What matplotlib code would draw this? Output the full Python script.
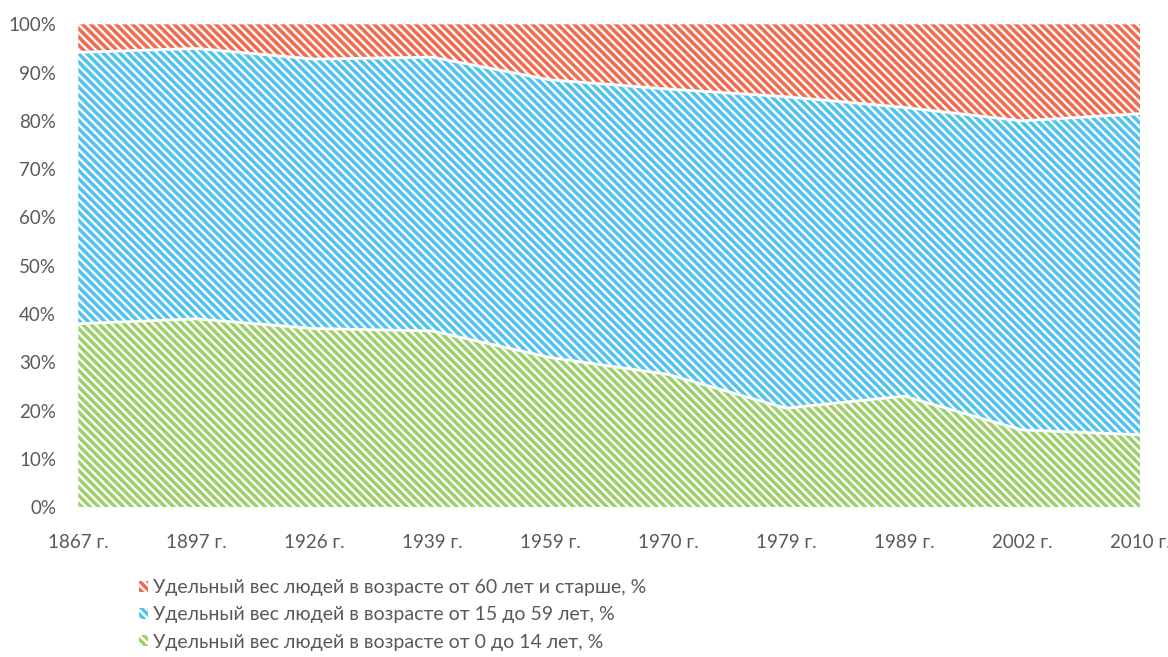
import numpy as np
import matplotlib.pyplot as plt
from matplotlib.patches import Patch
from matplotlib.ticker import FuncFormatter

plt.rcParams['font.family'] = ['Lato', 'DejaVu Sans']
plt.rcParams['hatch.linewidth'] = 2.5

# data
years = ['1867 г.', '1897 г.', '1926 г.', '1939 г.', '1959 г.',
         '1970 г.', '1979 г.', '1989 г.', '2002 г.', '2010 г.']
age_0_14 = [38.0, 39.0, 37.0, 36.5, 31.0, 27.5, 20.5, 23.0, 16.0, 15.0]
age_15_59 = [56.2, 56.0, 55.8, 56.7, 57.5, 59.1, 64.5, 59.8, 64.0, 66.5]
age_60 = [5.8, 5.0, 7.2, 6.8, 11.5, 13.4, 15.0, 17.2, 20.0, 18.5]

labels = ['Удельный вес людей в возрасте от 0 до 14 лет, %',
          'Удельный вес людей в возрасте от 15 до 59 лет, %',
          'Удельный вес людей в возрасте от 60 лет и старше, %']
colors = ['#9dd06a', '#4fc3ee', '#f2694e']
hatch = '\\\\\\\\'

fig = plt.figure(figsize=(11.68, 6.57), dpi=100)
ax = fig.add_axes([0.067, 0.228, 0.909, 0.735])

x = np.arange(len(years))
series = [np.array(age_0_14), np.array(age_15_59), np.array(age_60)]
bottom = np.zeros(len(years))
for s, c in zip(series, colors):
    top = bottom + s
    ax.fill_between(x, bottom, top, facecolor='white', edgecolor=c,
                    hatch=hatch, linewidth=0)
    bottom = top

# white separators between the layers
cum = np.cumsum(series, axis=0)
for row in cum[:2]:
    ax.plot(x, row, color='white', lw=2)

ax.set_xlim(0, len(years) - 1)
ax.set_ylim(0, 100)
ax.set_xticks(x)
ax.set_xticklabels(years)
ax.set_yticks(np.arange(0, 101, 10))
ax.yaxis.set_major_formatter(FuncFormatter(lambda v, p: f'{v:.0f}%'))
ax.tick_params(length=0, labelsize=13.5, labelcolor='#595959')
ax.tick_params(axis='y', pad=16)
ax.tick_params(axis='x', pad=19)
for sp in ax.spines.values():
    sp.set_visible(False)

handles = [Patch(facecolor='white', edgecolor=c, hatch=hatch, linewidth=0)
           for c in colors]
leg = fig.legend(handles[::-1], labels[::-1], loc='upper left',
                 bbox_to_anchor=(0.112, 0.13), frameon=False, fontsize=14,
                 handlelength=0.5, handleheight=0.5, handletextpad=0.25,
                 labelspacing=0.52, borderaxespad=0)
for t in leg.get_texts():
    t.set_color('#595959')

fig.savefig('out.png', dpi=100)
